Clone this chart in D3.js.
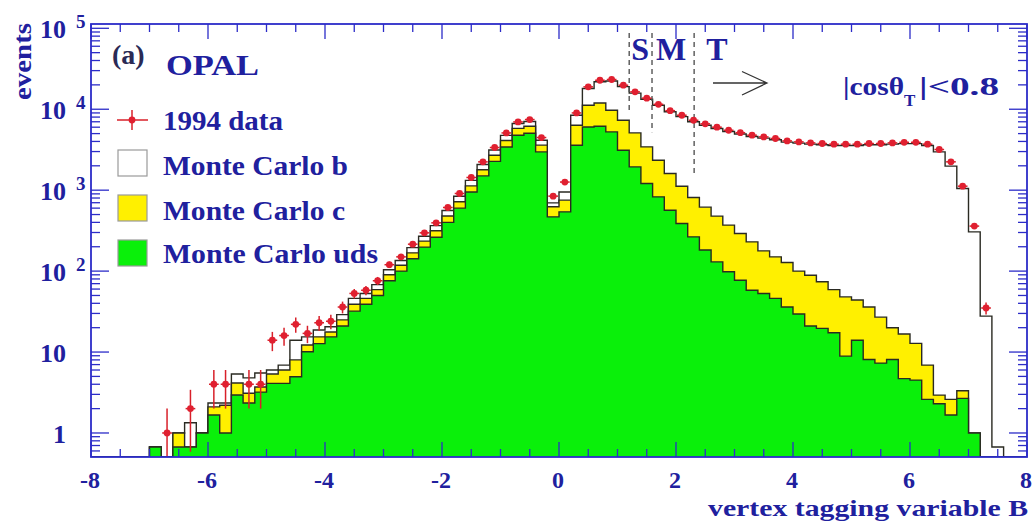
<!DOCTYPE html>
<html>
<head>
<meta charset="utf-8">
<script src="https://cdn.jsdelivr.net/npm/d3@7"></script>
<style>
  html, body { margin: 0; padding: 0; background: #fff; }
  svg { display: block; }
</style>
</head>
<body>
<div id="chart"></div>
<script>
// binning of the vertex tagging variable B
const binLow = -8;
const binWidth = 0.2;

// Monte Carlo uds, c and b contributions per bin (80 bins from -8 to 8)
const udsCounts = [
  0, 0, 0, 0, 0, 0.67, 0, 0.67, 0.67, 1.0,
  1.67, 1.0, 2.95, 2.35, 3.2, 4.1, 4.1, 4.95, 10.1, 12.7,
  15.4, 21, 32, 39, 50, 76, 100, 142, 198, 262,
  400, 600, 950, 1500, 2270, 3420, 4780, 5050, 2970, 468,
  540, 3595, 6040, 6170, 5250, 3120, 1940, 1210, 827, 566,
  388, 265, 182, 130, 98, 77, 58, 53, 46, 36,
  29.5, 21, 19.6, 17.3, 8.9, 14, 8.1, 7.3, 8.1, 4.7,
  4.5, 2.6, 2.3, 1.67, 2.68, 1.0, 0, 0, 0, 0
];
const charmCounts = [
  0, 0, 0, 0, 0, 0, 0, 0.33, 0, 0,
  0.43, 1.2, 1.2, 0.75, 0.5, 1.25, 1.9, 3.05, 2.1, 2.7,
  2.3, 4, 7, 7, 9, 14, 18, 26, 37, 53,
  80, 120, 180, 290, 430, 680, 1020, 1100, 630, 155,
  213, 2745, 5160, 5780, 4470, 4190, 3160, 2220, 1518, 1042,
  732, 548, 435, 348, 272, 215, 172, 125, 104, 92,
  70.5, 68, 54.4, 41.7, 39.1, 30, 27.9, 19.7, 11.9, 12,
  8.3, 4.3, 0.64, 0.93, 0.65, 0, 0, 0, 0, 0
];
const bottomCounts = [
  0, 0, 0, 0, 0, 0, 0, 0, 0.67, 0,
  0.25, 0.15, 1.2, 1.7, 1.8, 0.65, 0.9, 6.0, 3.2, 3.3,
  2.8, 4, 7, 7, 9, 14, 17, 27, 35, 50,
  80, 120, 190, 290, 430, 650, 850, 900, 540, 74,
  197, 2090, 6800, 9950, 12580, 11690, 10700, 9870, 8855, 7692,
  6980, 6187, 5733, 5300, 4940, 4658, 4380, 4212, 4050, 3792,
  3710, 3621, 3566, 3511, 3522, 3526, 3604, 3613, 3690, 3743,
  3747, 3563, 2967, 1977, 1047, 304, 27.8, 0.67, 0, 0
];
// 1994 data, events per bin
const dataCounts = [
  0, 0, 0, 0, 0, 0, 1, 0, 2, 0,
  4, 4, 0, 4, 4, 14, 16, 22, 17, 23,
  24, 36, 53, 58, 76, 120, 150, 215, 297, 395,
  611, 910, 1435, 2237, 3365, 5095, 6970, 7460, 4470, 844,
  1260, 9000, 18900, 22800, 23300, 19800, 16400, 13700, 11500, 9600,
  8430, 7310, 6600, 6000, 5500, 5130, 4780, 4550, 4350, 4060,
  3950, 3840, 3770, 3700, 3700, 3700, 3770, 3770, 3840, 3900,
  3900, 3700, 3180, 2240, 1120, 360, 35, 0, 0, 0
];

// tag cuts S, M, T and where their dashed markers end
const cutLabels = ["S", "M", "T"];
const cutValues = [1.2, 1.59, 2.31];
const cutLineEnds = [8900, 5200, 1450];

const xTicks = [-8, -6, -4, -2, 0, 2, 4, 6, 8];
const yDecades = [0, 1, 2, 3, 4, 5];

const width = 1033, height = 521;
const textBlue = "#20209e";
const axisBlue = "#2c2cc8";
const serif = "'Liberation Serif', 'DejaVu Serif', serif";

const x = d3.scaleLinear().domain([-8, 8]).range([91, 1027]);
const y = d3.scaleLog().domain([0.505, 1.13e5]).range([457, 24]);
const yBottom = y.range()[0];

const svg = d3.select("#chart").append("svg")
    .attr("width", width)
    .attr("height", height)
    .attr("viewBox", [0, 0, width, height])
    .style("font-family", serif);

svg.append("defs").append("clipPath")
    .attr("id", "plot-clip")
  .append("rect")
    .attr("x", x(-8)).attr("y", y.range()[1])
    .attr("width", x(8) - x(-8)).attr("height", yBottom - y.range()[1]);

const plot = svg.append("g").attr("clip-path", "url(#plot-clip)");

// stacked histograms
const bins = udsCounts.map((u, i) => ({
  uds: u, c: charmCounts[i], b: bottomCounts[i]
}));
const layers = d3.stack().keys(["uds", "c", "b"])(bins);

const yv = v => v > y.domain()[0] ? y(v) : yBottom;
const step = d3.line().curve(d3.curveStepAfter);

function histPath(tops) {
  const n = tops.length;
  const pts = [[x(binLow), yBottom]];
  tops.forEach((v, i) => pts.push([x(binLow + i * binWidth), yv(v)]));
  pts.push([x(binLow + n * binWidth), yv(tops[n - 1])]);
  pts.push([x(binLow + n * binWidth), yBottom]);
  return step(pts);
}

const fills = ["#0af00a", "#fff000", "#ffffff"];
[2, 1, 0].forEach(k => {
  plot.append("path")
      .attr("d", histPath(layers[k].map(d => d[1])))
      .attr("fill", fills[k])
      .attr("stroke", "#2a2a22")
      .attr("stroke-width", 1.4)
      .attr("stroke-linejoin", "miter");
});

// dashed cut markers
cutValues.forEach((v, i) => {
  plot.append("line")
      .attr("x1", x(v)).attr("x2", x(v))
      .attr("y1", 33).attr("y2", y(cutLineEnds[i]))
      .attr("stroke", "#555")
      .attr("stroke-width", 1.4)
      .attr("stroke-dasharray", "5,4");
});

// data points with sqrt(N) errors
const points = dataCounts
  .map((n, i) => ({ lo: binLow + i * binWidth, n }))
  .filter(d => d.n > 0);

const pts = plot.append("g");
points.forEach(d => {
  const err = Math.sqrt(d.n);
  const cx = x(d.lo + binWidth / 2);
  pts.append("line")
      .attr("x1", cx).attr("x2", cx)
      .attr("y1", yv(d.n - err)).attr("y2", y(d.n + err))
      .attr("stroke", "#d8202a").attr("stroke-width", 1.5);
  pts.append("line")
      .attr("x1", x(d.lo) + 1).attr("x2", x(d.lo + binWidth) - 1)
      .attr("y1", y(d.n)).attr("y2", y(d.n))
      .attr("stroke", "#d8202a").attr("stroke-width", 1.5);
  pts.append("circle")
      .attr("cx", cx).attr("cy", y(d.n)).attr("r", 3.4)
      .attr("fill", "#e02030");
});

// frame and ticks
const axes = svg.append("g").attr("stroke", axisBlue).attr("stroke-width", 1.3);
axes.append("rect")
    .attr("x", x(-8)).attr("y", y.range()[1])
    .attr("width", x(8) - x(-8)).attr("height", yBottom - y.range()[1])
    .attr("fill", "none").attr("stroke-width", 1.8);

const xMinor = d3.range(-8, 8.001, 0.5).filter(v => !xTicks.includes(v));
[[xTicks, 15], [xMinor, 8]].forEach(([vals, len]) => {
  vals.forEach(v => {
    axes.append("line").attr("x1", x(v)).attr("x2", x(v))
        .attr("y1", yBottom).attr("y2", yBottom - len);
    axes.append("line").attr("x1", x(v)).attr("x2", x(v))
        .attr("y1", y.range()[1]).attr("y2", y.range()[1] + len);
  });
});

const yTickVals = [];
for (let e = -1; e <= 5; e++) {
  for (let k = 1; k <= 9; k++) {
    const v = k * Math.pow(10, e);
    if (v >= y.domain()[0] && v <= y.domain()[1]) yTickVals.push({ v, major: k === 1 });
  }
}
yTickVals.forEach(t => {
  const len = t.major ? 18 : 9;
  axes.append("line").attr("x1", x(-8)).attr("x2", x(-8) + len)
      .attr("y1", y(t.v)).attr("y2", y(t.v));
  axes.append("line").attr("x1", x(8)).attr("x2", x(8) - len)
      .attr("y1", y(t.v)).attr("y2", y(t.v));
});

// tick labels
const labels = svg.append("g")
    .attr("fill", textBlue)
    .attr("font-weight", "bold");

xTicks.forEach(v => {
  labels.append("text")
      .attr("x", x(v) - 1).attr("y", 488)
      .attr("text-anchor", "middle")
      .attr("font-size", 24)
      .text(v);
});

yDecades.forEach(e => {
  const ty = y(Math.pow(10, e));
  labels.append("text")
      .attr("x", 66).attr("y", ty + 10)
      .attr("text-anchor", "end")
      .attr("font-size", 26)
      .text(e === 0 ? "1" : "10");
  if (e > 1) {
    labels.append("text")
        .attr("x", 76).attr("y", ty)
        .attr("font-size", 19)
        .text(e);
  }
});

// axis titles
labels.append("text")
    .attr("x", 1028).attr("y", 516)
    .attr("text-anchor", "end")
    .attr("font-size", 24)
    .attr("textLength", 320).attr("lengthAdjust", "spacingAndGlyphs")
    .text("vertex tagging variable B");

labels.append("text")
    .attr("transform", "translate(31,100) rotate(-90)")
    .attr("font-size", 26)
    .attr("textLength", 77).attr("lengthAdjust", "spacingAndGlyphs")
    .text("events");

// header and legend
labels.append("text")
    .attr("x", 112).attr("y", 64)
    .attr("font-size", 28)
    .attr("fill", "#2a2a55")
    .text("(a)");
labels.append("text")
    .attr("x", 166).attr("y", 75)
    .attr("font-size", 30)
    .attr("textLength", 93).attr("lengthAdjust", "spacingAndGlyphs")
    .text("OPAL");

const legend = svg.append("g");
legend.append("line").attr("x1", 117).attr("x2", 148).attr("y1", 120).attr("y2", 120)
    .attr("stroke", "#d8202a").attr("stroke-width", 1.5);
legend.append("line").attr("x1", 132).attr("x2", 132).attr("y1", 110).attr("y2", 130)
    .attr("stroke", "#d8202a").attr("stroke-width", 1.5);
legend.append("circle").attr("cx", 132).attr("cy", 120).attr("r", 3.4).attr("fill", "#e02030");

const legendBoxes = [
  { fill: fills[2], top: 150 },
  { fill: fills[1], top: 195 },
  { fill: fills[0], top: 240 }
];
legendBoxes.forEach(b => {
  legend.append("rect")
      .attr("x", 118).attr("y", b.top).attr("width", 29).attr("height", 26)
      .attr("fill", b.fill).attr("stroke", "#9a9a9a").attr("stroke-width", 1.2);
});

const legendTexts = [
  { t: "1994 data", y: 130, w: 120 },
  { t: "Monte Carlo b", y: 175, w: 185 },
  { t: "Monte Carlo c", y: 220, w: 182 },
  { t: "Monte Carlo uds", y: 263, w: 215 }
];
legendTexts.forEach(d => {
  labels.append("text")
      .attr("x", 163).attr("y", d.y)
      .attr("font-size", 27)
      .attr("textLength", d.w).attr("lengthAdjust", "spacingAndGlyphs")
      .text(d.t);
});

// cut labels and arrow
const cutOffsets = [2, 4, 12];
cutLabels.forEach((s, i) => {
  labels.append("text")
      .attr("x", x(cutValues[i]) + cutOffsets[i]).attr("y", 60)
      .attr("font-size", 32)
      .text(s);
});

svg.append("path")
    .attr("d", "M713,83 L767,83 M742,71.5 L767,83 L742,95")
    .attr("fill", "none")
    .attr("stroke", "#333")
    .attr("stroke-width", 1.3);

labels.append("text")
    .attr("x", 843).attr("y", 95)
    .attr("font-size", 26)
    .attr("textLength", 61).attr("lengthAdjust", "spacingAndGlyphs")
    .text("|cosθ");
labels.append("text")
    .attr("x", 904).attr("y", 106)
    .attr("font-size", 17)
    .text("T");
labels.append("text")
    .attr("x", 919).attr("y", 95)
    .attr("font-size", 26)
    .attr("textLength", 80).attr("lengthAdjust", "spacingAndGlyphs")
    .text("|<0.8");
</script>
</body>
</html>
